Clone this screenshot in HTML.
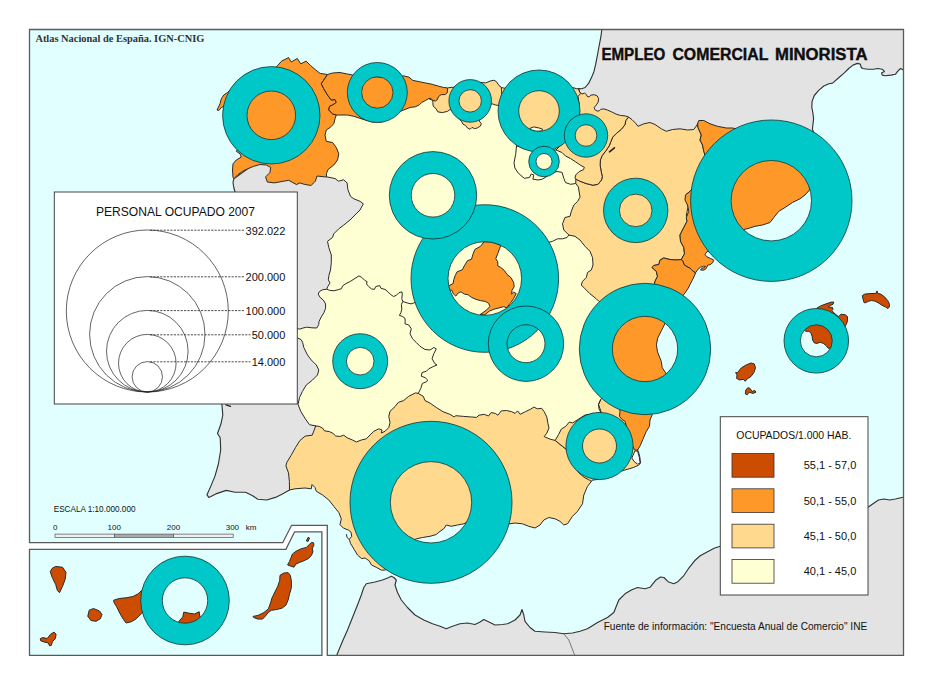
<!DOCTYPE html>
<html><head><meta charset="utf-8"><title>Empleo comercial minorista</title>
<style>
html,body{margin:0;padding:0;background:#fff;overflow:hidden;}
svg{display:block}
text{font-family:"Liberation Sans",sans-serif;fill:#111}
.ser{font-family:"Liberation Serif",serif;font-weight:bold;fill:#333}
.b{stroke:#2a2a2a;stroke-width:1;stroke-linejoin:round}
.b2{stroke:#333;stroke-width:1.15;stroke-linejoin:round}
.ring{fill:#00C8C8;stroke:#133;stroke-width:0.8;fill-rule:evenodd}
.c0{fill:#FFFFD4}.c1{fill:#FED98E}.c2{fill:#FE9929}.c3{fill:#CC4C02}.g{fill:#E3E3E3}
</style></head><body>
<svg width="933" height="685" viewBox="0 0 933 685">
<defs>
<clipPath id="cm"><path d="M29.5 29.5H903.5V655.3H327.3V525.3H291.6L282.7 542.7H29.5Z"/></clipPath>
<clipPath id="ci"><path d="M29.5 549.3H285.9L294.6 531.8H321.9V655.3H29.5Z"/></clipPath>
</defs>
<rect width="933" height="685" fill="#fff"/>
<!-- MAIN MAP -->
<g clip-path="url(#cm)">
<rect x="29" y="29" width="875" height="627" fill="#E1FFFF"/>
<path class="g b2" d="M233.8 178.8L233.0 182.5L233.8 187.5L235.0 192.0L232.0 210.0L228.0 240.0L224.0 280.0L218.0 320.0L214.0 350.0L216.0 380.0L221.9 404.5L222.8 415.0L221.0 423.8L217.5 433.5L220.2 437.8L220.7 450.0L218.4 464.0L214.9 476.4L210.5 486.9L207.0 494.8L208.8 497.4L215.8 493.9L226.3 490.4L235.0 492.2L245.6 492.2L252.6 495.7L257.8 499.2L266.6 500.0L275.4 497.4L282.4 493.9L289.5 490.0L300.0 470.0L330.0 430.0L345.0 300.0L372.0 205.0L345.0 170.0L260.0 160.0Z"/>
<path class="g b2" d="M602.0 28.0L601.8 29.7L600.9 36.7L599.1 46.0L597.4 55.4L595.6 64.7L593.9 71.7L591.5 77.6L588.6 83.4L585.1 87.5L581.6 88.7L578.5 88.5L590.0 130.0L700.0 160.0L810.0 160.0L815.0 136.0L812.4 129.1L812.9 124.7L813.6 118.9L812.9 113.0L811.8 107.2L812.1 101.4L814.3 95.5L818.7 90.4L823.8 86.0L828.9 83.8L832.6 83.1L838.4 78.0L844.3 72.9L848.7 68.5L853.0 65.1L857.4 63.4L860.3 64.1L861.1 67.0L862.5 68.5L867.6 69.2L873.5 69.2L877.9 68.5L882.2 69.2L884.4 71.4L881.5 72.9L882.2 75.1L885.2 75.8L891.0 75.1L895.4 74.3L897.6 71.4L900.5 68.5L903.4 69.9L906.0 69.9L906.0 28.0Z"/>
<path class="g b2" d="M336.0 657.0L342.5 641.3L347.5 630.0L352.5 617.5L357.5 605.0L361.3 595.0L363.8 587.5L366.3 583.8L375.0 582.0L382.5 580.0L388.8 577.5L391.3 576.3L393.8 577.5L396.3 580.0L395.0 585.0L397.5 592.5L401.3 600.0L407.5 607.5L415.0 615.0L423.8 620.0L432.5 623.8L440.0 626.3L446.3 628.8L452.5 626.3L460.0 623.8L467.5 623.0L475.0 624.5L480.0 622.0L483.8 619.5L487.5 621.3L495.0 625.0L502.5 624.5L507.5 623.8L515.0 620.0L520.0 615.0L522.0 609.5L523.8 615.0L525.0 621.3L530.0 627.5L535.0 631.3L545.0 632.0L555.0 632.5L563.8 633.8L572.5 633.0L580.0 631.3L587.5 628.8L597.5 622.5L607.5 617.5L613.8 612.5L616.3 606.3L618.8 600.0L625.0 593.8L631.3 590.0L637.5 587.5L645.0 588.8L650.0 587.3L655.6 580.3L660.6 577.0L663.9 577.5L668.1 581.7L673.7 583.7L677.9 581.7L683.4 576.2L689.0 567.8L694.6 560.8L700.2 555.8L707.1 551.9L714.1 548.3L720.2 546.3L740.0 540.0L780.0 530.0L830.0 518.0L868.0 507.3L873.0 503.7L878.5 500.0L884.1 499.0L889.7 500.0L895.3 499.0L903.0 497.3L906.0 497.0L906.0 657.0Z"/>
<path d="M563.8 633.8L568.8 640L575 656" fill="none" stroke="#333" stroke-width="0.6"/>
<path d="M226 404.8L230.5 406.3" stroke="#222" stroke-width="1.4" stroke-linecap="round"/>
<path d="M346.4 534.6L347.2 537.5L348.8 539.3" fill="none" stroke="#222" stroke-width="1" stroke-linecap="round"/>
<clipPath id="sp"><path d="M233.8 178.8L233.0 177.5L232.5 170.0L233.0 163.8L236.3 160.0L241.3 157.0L240.0 153.8L236.3 151.3L240.0 146.0L238.0 136.0L236.0 125.0L232.0 115.0L228.0 108.0L223.8 106.3L221.3 107.5L218.8 110.5L217.0 110.0L220.0 103.8L221.3 98.8L223.8 95.0L227.5 92.5L232.0 88.0L240.0 80.0L252.0 74.0L265.0 70.0L276.3 67.0L281.6 61.1L288.6 57.6L291.2 62.0L297.3 58.5L300.8 63.8L306.1 61.1L310.5 65.5L315.7 69.9L320.1 73.4L327.5 74.5L332.5 73.0L340.0 72.5L346.3 73.8L352.5 75.0L365.0 76.0L380.0 77.0L395.0 77.0L403.9 75.9L409.0 77.2L412.9 80.4L419.3 81.7L425.7 83.0L432.2 84.3L438.6 86.2L443.7 87.5L447.6 87.9L455.0 87.0L465.0 84.0L475.0 83.0L482.3 82.4L485.5 83.0L490.0 81.1L493.9 80.2L496.5 81.7L499.0 85.6L501.6 87.5L504.2 88.2L510.0 88.0L525.0 86.0L540.0 85.0L555.0 86.0L565.0 87.0L575.0 88.0L576.0 88.9L578.5 88.5L579.6 91.8L581.8 94.0L584.7 93.2L586.5 94.7L587.3 96.5L589.1 96.9L590.9 95.1L594.2 94.7L597.1 95.8L598.6 98.4L598.2 102.0L596.4 104.9L594.2 107.5L594.9 109.7L597.1 111.1L599.3 110.8L600.8 109.3L603.7 108.9L607.3 110.0L611.7 111.9L616.1 114.1L620.5 115.5L625.0 115.9L628.5 117.0L632.0 119.6L635.5 123.1L638.0 126.3L643.8 123.8L650.0 122.5L655.0 124.5L661.3 128.8L666.3 131.3L672.5 129.5L680.0 128.8L687.5 130.0L693.8 129.5L697.0 125.0L698.8 120.5L703.8 120.5L710.0 123.8L717.5 126.3L726.3 128.0L732.5 128.0L745.0 131.0L760.0 133.0L775.0 135.0L790.0 137.0L805.0 137.0L815.0 136.0L822.0 142.0L824.0 150.0L818.0 158.0L814.0 170.0L812.0 182.0L809.5 190.0L805.0 195.0L800.0 198.8L792.5 202.5L785.0 207.5L778.8 211.3L773.8 217.5L770.0 222.5L762.5 225.0L755.0 226.3L748.0 228.5L743.7 229.5L735.0 238.0L725.0 246.0L716.0 250.0L714.0 252.0L707.1 251.5L705.0 254.5L706.6 256.6L710.6 258.6L713.2 259.6L713.7 260.1L712.7 262.7L710.1 264.7L707.6 265.2L707.1 266.8L705.5 269.3L703.0 270.3L700.4 269.8L702.0 268.3L704.5 267.8L705.5 266.3L703.5 266.3L700.4 267.3L697.9 269.3L695.8 272.4L694.3 276.0L692.3 280.1L690.2 284.1L688.2 288.2L685.1 292.8L683.1 295.4L678.0 303.0L672.0 311.0L667.0 318.0L664.8 323.8L661.3 330.8L657.8 337.8L656.4 344.8L657.5 351.9L659.6 357.1L661.3 361.5L662.2 367.6L665.7 372.9L670.0 380.0L672.0 388.0L668.0 396.0L662.0 404.0L656.0 410.0L652.5 413.8L650.0 420.0L649.5 426.3L646.3 431.3L642.8 439.6L640.2 445.7L637.6 450.0L638.5 452.0L639.8 457.0L640.6 463.2L638.4 465.3L633.2 467.6L627.0 469.4L618.0 472.0L610.0 476.0L600.0 479.0L593.8 480.0L592.5 480.0L587.5 486.3L583.8 495.0L582.5 503.8L577.5 511.3L572.5 516.3L567.5 523.8L563.8 525.0L560.0 521.3L555.0 518.8L548.8 517.5L543.8 520.0L540.0 525.0L535.0 528.0L528.8 526.3L522.5 523.8L515.0 523.0L510.0 523.8L500.0 524.0L490.0 523.0L480.0 522.0L470.0 522.0L466.3 522.5L463.8 523.8L457.5 525.0L451.3 526.3L446.3 525.0L443.8 528.8L440.0 531.3L436.3 534.5L430.0 536.3L422.5 537.5L416.3 538.8L410.0 542.0L404.0 550.0L398.0 560.0L392.0 567.0L385.0 570.0L381.5 570.2L376.2 567.3L371.5 565.0L369.2 560.9L365.1 558.0L361.6 558.6L357.5 555.0L354.0 549.2L350.5 543.4L349.3 539.3L351.7 536.4L351.1 532.3L348.2 529.9L343.5 528.2L340.0 524.7L341.3 518.8L338.8 512.5L333.8 506.3L328.8 500.0L322.5 495.0L316.3 491.3L315.0 487.5L312.0 484.5L311.3 488.8L305.0 488.0L295.0 488.8L289.5 490.0L289.4 481.6L288.5 472.9L285.9 465.9L286.8 462.4L291.1 455.4L295.5 447.5L299.9 440.5L305.2 436.1L312.2 435.2L313.9 430.8L315.7 425.9L309.5 424.7L305.2 418.6L300.8 411.5L298.1 404.5L299.5 397.5L302.5 391.3L306.3 385.0L312.5 380.0L317.5 375.0L318.8 370.0L316.3 365.0L311.3 360.0L307.5 355.0L303.8 347.5L302.6 342.3L300.9 339.5L297.4 337.9L296.0 334.0L297.4 328.6L299.9 329.1L303.1 328.0L306.4 327.2L311.9 327.8L316.8 328.0L318.7 324.7L319.0 321.5L321.2 317.1L323.9 312.7L325.6 308.3L325.6 303.9L323.4 300.1L320.1 297.4L318.2 294.1L319.6 291.4L322.8 289.7L326.7 289.2L327.8 286.4L330.0 283.1L328.3 279.9L328.9 275.5L330.5 270.0L331.3 262.5L331.3 255.0L328.8 247.5L327.5 241.3L332.5 237.5L333.8 233.8L338.8 228.8L343.8 225.0L350.0 220.0L355.0 215.0L360.0 210.0L363.3 203.8L360.0 201.3L353.8 198.8L350.5 196.3L347.9 189.7L347.1 182.9L343.6 179.8L338.5 181.2L335.1 178.6L330.0 177.5L326.5 176.9L324.8 176.9L317.1 176.0L315.3 181.2L311.1 185.5L304.2 184.3L299.9 182.9L296.5 184.6L288.8 180.3L283.6 181.2L274.2 182.9L267.3 182.0L265.6 176.9L269.9 172.6L270.7 167.4L266.3 165.0L260.0 164.5L253.8 166.3L247.5 168.8L242.5 171.3L237.5 175.0Z"/></clipPath>
<path class="c0" d="M233.8 178.8L233.0 177.5L232.5 170.0L233.0 163.8L236.3 160.0L241.3 157.0L240.0 153.8L236.3 151.3L240.0 146.0L238.0 136.0L236.0 125.0L232.0 115.0L228.0 108.0L223.8 106.3L221.3 107.5L218.8 110.5L217.0 110.0L220.0 103.8L221.3 98.8L223.8 95.0L227.5 92.5L232.0 88.0L240.0 80.0L252.0 74.0L265.0 70.0L276.3 67.0L281.6 61.1L288.6 57.6L291.2 62.0L297.3 58.5L300.8 63.8L306.1 61.1L310.5 65.5L315.7 69.9L320.1 73.4L327.5 74.5L332.5 73.0L340.0 72.5L346.3 73.8L352.5 75.0L365.0 76.0L380.0 77.0L395.0 77.0L403.9 75.9L409.0 77.2L412.9 80.4L419.3 81.7L425.7 83.0L432.2 84.3L438.6 86.2L443.7 87.5L447.6 87.9L455.0 87.0L465.0 84.0L475.0 83.0L482.3 82.4L485.5 83.0L490.0 81.1L493.9 80.2L496.5 81.7L499.0 85.6L501.6 87.5L504.2 88.2L510.0 88.0L525.0 86.0L540.0 85.0L555.0 86.0L565.0 87.0L575.0 88.0L576.0 88.9L578.5 88.5L579.6 91.8L581.8 94.0L584.7 93.2L586.5 94.7L587.3 96.5L589.1 96.9L590.9 95.1L594.2 94.7L597.1 95.8L598.6 98.4L598.2 102.0L596.4 104.9L594.2 107.5L594.9 109.7L597.1 111.1L599.3 110.8L600.8 109.3L603.7 108.9L607.3 110.0L611.7 111.9L616.1 114.1L620.5 115.5L625.0 115.9L628.5 117.0L632.0 119.6L635.5 123.1L638.0 126.3L643.8 123.8L650.0 122.5L655.0 124.5L661.3 128.8L666.3 131.3L672.5 129.5L680.0 128.8L687.5 130.0L693.8 129.5L697.0 125.0L698.8 120.5L703.8 120.5L710.0 123.8L717.5 126.3L726.3 128.0L732.5 128.0L745.0 131.0L760.0 133.0L775.0 135.0L790.0 137.0L805.0 137.0L815.0 136.0L822.0 142.0L824.0 150.0L818.0 158.0L814.0 170.0L812.0 182.0L809.5 190.0L805.0 195.0L800.0 198.8L792.5 202.5L785.0 207.5L778.8 211.3L773.8 217.5L770.0 222.5L762.5 225.0L755.0 226.3L748.0 228.5L743.7 229.5L735.0 238.0L725.0 246.0L716.0 250.0L714.0 252.0L707.1 251.5L705.0 254.5L706.6 256.6L710.6 258.6L713.2 259.6L713.7 260.1L712.7 262.7L710.1 264.7L707.6 265.2L707.1 266.8L705.5 269.3L703.0 270.3L700.4 269.8L702.0 268.3L704.5 267.8L705.5 266.3L703.5 266.3L700.4 267.3L697.9 269.3L695.8 272.4L694.3 276.0L692.3 280.1L690.2 284.1L688.2 288.2L685.1 292.8L683.1 295.4L678.0 303.0L672.0 311.0L667.0 318.0L664.8 323.8L661.3 330.8L657.8 337.8L656.4 344.8L657.5 351.9L659.6 357.1L661.3 361.5L662.2 367.6L665.7 372.9L670.0 380.0L672.0 388.0L668.0 396.0L662.0 404.0L656.0 410.0L652.5 413.8L650.0 420.0L649.5 426.3L646.3 431.3L642.8 439.6L640.2 445.7L637.6 450.0L638.5 452.0L639.8 457.0L640.6 463.2L638.4 465.3L633.2 467.6L627.0 469.4L618.0 472.0L610.0 476.0L600.0 479.0L593.8 480.0L592.5 480.0L587.5 486.3L583.8 495.0L582.5 503.8L577.5 511.3L572.5 516.3L567.5 523.8L563.8 525.0L560.0 521.3L555.0 518.8L548.8 517.5L543.8 520.0L540.0 525.0L535.0 528.0L528.8 526.3L522.5 523.8L515.0 523.0L510.0 523.8L500.0 524.0L490.0 523.0L480.0 522.0L470.0 522.0L466.3 522.5L463.8 523.8L457.5 525.0L451.3 526.3L446.3 525.0L443.8 528.8L440.0 531.3L436.3 534.5L430.0 536.3L422.5 537.5L416.3 538.8L410.0 542.0L404.0 550.0L398.0 560.0L392.0 567.0L385.0 570.0L381.5 570.2L376.2 567.3L371.5 565.0L369.2 560.9L365.1 558.0L361.6 558.6L357.5 555.0L354.0 549.2L350.5 543.4L349.3 539.3L351.7 536.4L351.1 532.3L348.2 529.9L343.5 528.2L340.0 524.7L341.3 518.8L338.8 512.5L333.8 506.3L328.8 500.0L322.5 495.0L316.3 491.3L315.0 487.5L312.0 484.5L311.3 488.8L305.0 488.0L295.0 488.8L289.5 490.0L289.4 481.6L288.5 472.9L285.9 465.9L286.8 462.4L291.1 455.4L295.5 447.5L299.9 440.5L305.2 436.1L312.2 435.2L313.9 430.8L315.7 425.9L309.5 424.7L305.2 418.6L300.8 411.5L298.1 404.5L299.5 397.5L302.5 391.3L306.3 385.0L312.5 380.0L317.5 375.0L318.8 370.0L316.3 365.0L311.3 360.0L307.5 355.0L303.8 347.5L302.6 342.3L300.9 339.5L297.4 337.9L296.0 334.0L297.4 328.6L299.9 329.1L303.1 328.0L306.4 327.2L311.9 327.8L316.8 328.0L318.7 324.7L319.0 321.5L321.2 317.1L323.9 312.7L325.6 308.3L325.6 303.9L323.4 300.1L320.1 297.4L318.2 294.1L319.6 291.4L322.8 289.7L326.7 289.2L327.8 286.4L330.0 283.1L328.3 279.9L328.9 275.5L330.5 270.0L331.3 262.5L331.3 255.0L328.8 247.5L327.5 241.3L332.5 237.5L333.8 233.8L338.8 228.8L343.8 225.0L350.0 220.0L355.0 215.0L360.0 210.0L363.3 203.8L360.0 201.3L353.8 198.8L350.5 196.3L347.9 189.7L347.1 182.9L343.6 179.8L338.5 181.2L335.1 178.6L330.0 177.5L326.5 176.9L324.8 176.9L317.1 176.0L315.3 181.2L311.1 185.5L304.2 184.3L299.9 182.9L296.5 184.6L288.8 180.3L283.6 181.2L274.2 182.9L267.3 182.0L265.6 176.9L269.9 172.6L270.7 167.4L266.3 165.0L260.0 164.5L253.8 166.3L247.5 168.8L242.5 171.3L237.5 175.0Z"/>
<g clip-path="url(#sp)">
<path class="c1 b" d="M315.7 425.9L319.2 426.4L322.7 428.2L324.4 430.8L329.7 431.7L333.2 433.5L335.8 436.1L340.2 436.4L343.7 435.2L347.2 437.8L352.5 440.0L356.3 442.0L361.3 440.0L366.3 438.8L370.0 435.0L373.8 431.3L378.8 428.8L382.0 430.0L381.3 433.0L385.0 431.3L388.8 427.5L390.0 422.5L388.8 416.3L390.0 411.3L395.0 406.6L398.4 402.3L403.6 400.6L408.7 396.3L415.6 392.9L418.2 393.4L423.3 396.3L425.0 400.6L430.2 403.2L436.2 407.4L443.0 411.7L449.9 414.3L454.2 416.9L455.9 415.7L463.6 416.4L470.5 416.9L476.5 417.4L479.0 415.2L484.2 414.3L488.5 416.0L491.1 412.6L495.3 413.4L497.9 415.2L501.3 410.9L506.5 410.5L511.6 411.7L515.1 413.4L517.6 410.9L520.2 414.3L525.4 411.7L530.5 409.2L533.9 407.1L537.4 408.8L541.7 408.3L544.2 411.7L546.8 416.9L548.0 423.7L549.0 428.0L546.8 433.2L544.2 436.6L550.2 439.2L555.2 440.4L559.6 444.0L564.0 447.5L566.2 449.2L575.0 456.0L610.0 470.0L610.0 600.0L270.0 600.0L270.0 430.0Z"/>
<path class="c1 b" d="M555.2 440.4L558.7 434.3L561.3 429.1L565.7 426.4L569.2 422.1L572.7 422.9L585.0 415.0L601.3 412.5L598.5 404.5L600.8 399.3L610.0 390.0L640.0 400.0L660.0 440.0L660.0 480.0L592.0 481.6L589.4 480.2L584.1 477.3L578.9 472.9L572.0 462.0L566.2 449.2L564.0 447.5L559.6 444.0Z"/>
<path class="c1 b" d="M628.5 117.0L625.8 120.5L624.9 124.8L621.4 129.2L616.2 133.6L612.7 137.1L610.9 141.5L609.2 145.9L605.7 151.1L602.2 155.5L600.4 159.9L600.1 165.2L601.3 172.2L602.3 176.6L601.5 180.0L598.0 184.3L592.9 185.2L586.0 183.5L579.2 180.9L575.8 179.0L575.8 183.5L578.3 186.9L579.2 192.0L580.0 197.2L577.5 201.5L573.8 205.0L571.3 211.3L570.0 216.3L565.0 217.5L562.5 223.8L563.8 230.0L568.8 235.0L575.0 236.3L580.0 240.0L585.0 246.3L590.0 251.3L592.5 257.5L593.0 265.0L591.3 270.0L587.5 272.5L586.3 277.5L582.5 281.3L581.3 285.0L585.0 288.8L590.0 293.8L596.3 298.8L598.8 301.3L610.0 310.0L640.0 300.0L654.5 283.8L655.0 281.3L657.5 276.3L656.3 271.3L652.0 267.5L653.8 265.5L658.8 264.5L660.0 260.0L663.8 258.0L670.0 259.5L676.3 260.0L681.3 259.5L684.5 253.8L683.8 247.5L680.5 241.3L680.0 235.0L683.8 227.5L687.0 221.3L686.3 215.0L688.0 207.5L687.5 200.0L685.5 195.0L690.0 191.3L700.0 180.0L705.0 155.0L703.8 151.3L702.5 145.0L700.0 140.0L701.3 135.0L698.0 127.5L697.5 122.0L697.0 110.0L628.0 105.0Z"/>
<path class="c1 b" d="M420.0 70.0L420.0 95.0L432.8 100.4L432.8 102.3L433.2 106.2L436.0 108.7L437.9 111.9L442.4 112.6L447.6 111.3L450.2 109.4L455.0 114.0L461.7 121.6L463.0 124.2L465.6 125.5L467.5 128.0L470.1 129.3L472.0 127.4L474.6 128.7L477.2 128.0L480.4 126.1L481.3 123.5L479.1 120.9L484.0 114.0L491.6 103.6L495.2 104.9L498.4 105.5L503.0 106.0L512.0 100.0L512.0 70.0Z"/>
<path class="c1 b" d="M575.0 80.0L640.0 80.0L628.5 117.0L625.8 120.5L624.9 124.8L621.4 129.2L616.2 133.6L612.7 137.1L610.9 141.5L609.2 145.9L605.7 151.1L602.2 155.5L600.4 159.9L600.1 165.2L601.3 172.2L602.3 176.6L601.5 180.0L598.0 184.3L592.9 185.2L586.0 183.5L579.2 180.9L575.8 179.0L574.9 178.3L575.8 174.9L579.2 171.5L583.5 169.7L584.3 167.2L580.9 165.5L575.8 162.0L570.6 158.6L565.5 156.0L562.0 152.5L556.0 150.0L550.0 140.0L550.0 100.0Z"/>
<path class="c1 b" d="M501.3 70.0L501.3 87.0L502.0 98.0L503.0 106.0L506.0 114.0L509.0 123.0L512.0 133.0L517.0 146.0L530.0 150.0L545.0 152.0L556.0 150.0L560.0 146.0L566.0 141.0L571.0 132.0L575.0 122.0L578.0 112.0L579.0 104.0L578.1 96.2L580.7 93.6L579.6 91.8L578.5 88.5L582.0 70.0Z"/>
<path class="c0 b" d="M530.0 128.3L533.8 126.9L539.1 128.0L542.6 129.2L541.7 131.0L536.4 131.5L531.2 130.1Z"/>
<path class="c2 b" d="M327.5 50.0L327.5 74.5L323.8 80.0L321.3 83.8L323.8 88.8L327.5 95.0L331.3 100.0L335.0 99.5L336.3 102.5L332.5 105.0L329.5 106.3L328.8 110.0L332.5 113.8L336.3 115.0L335.0 118.8L333.8 123.8L330.0 127.5L326.3 130.0L325.0 135.0L326.3 141.3L332.5 142.5L336.3 147.5L338.8 153.8L337.5 160.0L333.8 165.0L328.0 169.5L326.5 173.4L326.5 176.9L320.0 200.0L200.0 200.0L200.0 50.0Z"/>
<path class="c2 b" d="M327.5 55.0L327.5 74.5L323.8 80.0L321.3 83.8L323.8 88.8L327.5 95.0L331.3 100.0L335.0 99.5L336.3 102.5L332.5 105.0L329.5 106.3L328.8 110.0L332.5 113.8L336.3 115.0L340.0 115.0L347.5 115.0L353.8 116.3L362.0 119.0L372.0 122.0L382.0 122.0L392.0 117.0L401.9 110.7L405.1 109.4L410.3 107.4L415.4 106.8L419.3 104.9L421.9 102.3L425.7 100.4L428.9 98.4L430.9 98.4L432.8 100.4L435.4 101.0L437.3 99.7L438.6 96.5L441.2 94.6L445.0 94.6L447.3 92.7L447.6 87.9L448.0 55.0Z"/>
<path class="c2 b" d="M697.0 110.0L697.5 122.0L698.0 127.5L701.3 135.0L700.0 140.0L702.5 145.0L703.8 151.3L705.0 155.0L700.0 180.0L690.0 191.3L685.5 195.0L685.0 200.0L687.5 205.0L688.8 211.3L686.3 217.5L687.0 221.3L683.8 227.5L680.0 235.0L680.5 241.3L683.8 247.5L684.5 253.8L681.3 259.5L683.1 261.7L684.1 264.7L687.2 266.8L690.2 268.3L692.8 270.9L695.3 272.9L696.0 290.0L740.0 290.0L840.0 220.0L840.0 110.0Z"/>
<path class="c2 b" d="M681.3 259.5L676.3 260.0L670.0 259.5L663.8 258.0L660.0 260.0L658.8 264.5L653.8 265.5L652.0 267.5L656.3 271.3L657.5 276.3L655.0 281.3L654.5 283.8L640.0 300.0L620.0 320.0L610.0 350.0L610.0 380.0L618.0 400.0L620.0 411.3L619.5 416.3L622.0 419.5L625.0 421.3L630.0 440.0L634.5 450.0L637.0 450.0L660.0 450.0L700.0 380.0L700.0 300.0L695.3 272.9L692.8 270.9L690.2 268.3L687.2 266.8L684.1 264.7L683.1 261.7Z"/>
<path class="c2 b" d="M484.0 241.8L480.7 246.2L474.8 249.5L472.8 254.7L471.5 259.3L467.6 260.6L464.3 265.9L462.3 269.8L457.1 271.8L455.1 275.7L453.8 279.7L453.1 283.6L449.2 285.6L448.1 286.9L449.9 290.2L451.8 290.2L453.1 293.5L455.8 296.1L458.4 292.8L461.0 291.8L464.3 294.1L468.2 294.8L471.5 297.4L476.1 299.4L480.7 300.7L485.3 301.4L488.6 303.3L489.9 306.6L486.0 310.5L480.1 314.5L484.7 314.9L489.3 311.2L493.9 309.2L499.1 307.9L503.7 306.6L506.4 307.9L510.3 303.3L513.6 298.7L516.2 293.5L513.6 292.2L511.6 294.1L512.0 290.2L514.2 286.9L513.6 282.3L511.0 277.7L507.0 274.4L504.4 270.5L500.4 267.2L497.8 265.9L497.8 261.9L495.8 258.7L497.8 253.4L499.8 248.1L500.7 245.5L495.2 243.1L489.9 241.8Z"/>
<path d="M516.6 145.0L515.7 154.3L514.0 162.9L514.9 168.0L518.3 173.2L524.3 178.3L529.5 177.5L531.2 174.0L533.7 174.9L532.9 179.2L538.0 180.0L542.3 179.2L546.0 177.0L550.0 174.0L556.9 171.5L562.0 172.3L563.8 178.3L565.5 182.6L570.6 184.3L575.8 183.5" fill="none" class="b"/>
<path d="M326.7 289.2L329.4 290.3L333.8 290.8L338.2 289.7L341.5 288.6L342.6 285.9L345.8 283.7L350.7 281.2L355.1 278.3L358.9 275.9L361.8 277.4L364.7 280.3L367.1 281.7L366.6 284.1L368.6 286.5L371.5 288.9L374.4 289.4L375.8 286.5L379.7 285.6L381.1 288.4L385.0 289.4L387.9 291.8L390.8 294.7L393.6 296.5L396.5 295.2L398.9 292.8L401.8 291.8L402.3 294.2L401.8 298.6L402.8 301.5" fill="none" class="b"/>
<path d="M402.8 301.5L407.1 302.9L411.0 303.9L413.9 302.9L425.0 300.0L440.0 296.0" fill="none" class="b"/>
<path d="M520.0 250.0L535.0 246.0L550.0 242.0L552.5 241.3L557.5 238.8L562.5 238.8L567.0 237.5L568.8 235.0" fill="none" class="b"/>
<path d="M402.8 301.5L401.4 304.4L401.8 309.2L400.9 312.6L399.4 315.4L402.3 316.4L404.7 317.9L405.2 320.0L405.0 323.8L408.8 325.0L411.3 328.8L410.0 333.8L412.5 338.8L416.3 342.5L420.0 346.3L425.0 349.5L430.0 350.0L433.8 347.5L436.3 348.8L433.8 353.8L432.0 358.8L435.0 363.8L437.0 365.0L433.8 366.3L428.8 368.8L426.3 371.3L422.0 372.5L421.3 376.3L425.0 377.5L427.6 380.0L426.7 381.7L422.4 383.4L420.7 388.6L418.2 393.4" fill="none" class="b"/>
<path d="M600.8 412.4L599.0 408.9L598.5 404.5L600.8 399.3" fill="none" class="b"/>
<path class="b" d="M634.9 451.0L637.6 451.0L639.3 457.1L640.2 463.2L637.6 464.1L634.1 461.5L631.8 458.0Z" fill="#F4FFFF"/>
<path d="M609.5 151.8L614.4 147.8" stroke="#222" stroke-width="1.6" stroke-linecap="round"/>
</g>
<path d="M233.8 178.8L233.0 177.5L232.5 170.0L233.0 163.8L236.3 160.0L241.3 157.0L240.0 153.8L236.3 151.3L240.0 146.0L238.0 136.0L236.0 125.0L232.0 115.0L228.0 108.0L223.8 106.3L221.3 107.5L218.8 110.5L217.0 110.0L220.0 103.8L221.3 98.8L223.8 95.0L227.5 92.5L232.0 88.0L240.0 80.0L252.0 74.0L265.0 70.0L276.3 67.0L281.6 61.1L288.6 57.6L291.2 62.0L297.3 58.5L300.8 63.8L306.1 61.1L310.5 65.5L315.7 69.9L320.1 73.4L327.5 74.5L332.5 73.0L340.0 72.5L346.3 73.8L352.5 75.0L365.0 76.0L380.0 77.0L395.0 77.0L403.9 75.9L409.0 77.2L412.9 80.4L419.3 81.7L425.7 83.0L432.2 84.3L438.6 86.2L443.7 87.5L447.6 87.9L455.0 87.0L465.0 84.0L475.0 83.0L482.3 82.4L485.5 83.0L490.0 81.1L493.9 80.2L496.5 81.7L499.0 85.6L501.6 87.5L504.2 88.2L510.0 88.0L525.0 86.0L540.0 85.0L555.0 86.0L565.0 87.0L575.0 88.0L576.0 88.9L578.5 88.5L579.6 91.8L581.8 94.0L584.7 93.2L586.5 94.7L587.3 96.5L589.1 96.9L590.9 95.1L594.2 94.7L597.1 95.8L598.6 98.4L598.2 102.0L596.4 104.9L594.2 107.5L594.9 109.7L597.1 111.1L599.3 110.8L600.8 109.3L603.7 108.9L607.3 110.0L611.7 111.9L616.1 114.1L620.5 115.5L625.0 115.9L628.5 117.0L632.0 119.6L635.5 123.1L638.0 126.3L643.8 123.8L650.0 122.5L655.0 124.5L661.3 128.8L666.3 131.3L672.5 129.5L680.0 128.8L687.5 130.0L693.8 129.5L697.0 125.0L698.8 120.5L703.8 120.5L710.0 123.8L717.5 126.3L726.3 128.0L732.5 128.0L745.0 131.0L760.0 133.0L775.0 135.0L790.0 137.0L805.0 137.0L815.0 136.0L822.0 142.0L824.0 150.0L818.0 158.0L814.0 170.0L812.0 182.0L809.5 190.0L805.0 195.0L800.0 198.8L792.5 202.5L785.0 207.5L778.8 211.3L773.8 217.5L770.0 222.5L762.5 225.0L755.0 226.3L748.0 228.5L743.7 229.5L735.0 238.0L725.0 246.0L716.0 250.0L714.0 252.0L707.1 251.5L705.0 254.5L706.6 256.6L710.6 258.6L713.2 259.6L713.7 260.1L712.7 262.7L710.1 264.7L707.6 265.2L707.1 266.8L705.5 269.3L703.0 270.3L700.4 269.8L702.0 268.3L704.5 267.8L705.5 266.3L703.5 266.3L700.4 267.3L697.9 269.3L695.8 272.4L694.3 276.0L692.3 280.1L690.2 284.1L688.2 288.2L685.1 292.8L683.1 295.4L678.0 303.0L672.0 311.0L667.0 318.0L664.8 323.8L661.3 330.8L657.8 337.8L656.4 344.8L657.5 351.9L659.6 357.1L661.3 361.5L662.2 367.6L665.7 372.9L670.0 380.0L672.0 388.0L668.0 396.0L662.0 404.0L656.0 410.0L652.5 413.8L650.0 420.0L649.5 426.3L646.3 431.3L642.8 439.6L640.2 445.7L637.6 450.0L638.5 452.0L639.8 457.0L640.6 463.2L638.4 465.3L633.2 467.6L627.0 469.4L618.0 472.0L610.0 476.0L600.0 479.0L593.8 480.0L592.5 480.0L587.5 486.3L583.8 495.0L582.5 503.8L577.5 511.3L572.5 516.3L567.5 523.8L563.8 525.0L560.0 521.3L555.0 518.8L548.8 517.5L543.8 520.0L540.0 525.0L535.0 528.0L528.8 526.3L522.5 523.8L515.0 523.0L510.0 523.8L500.0 524.0L490.0 523.0L480.0 522.0L470.0 522.0L466.3 522.5L463.8 523.8L457.5 525.0L451.3 526.3L446.3 525.0L443.8 528.8L440.0 531.3L436.3 534.5L430.0 536.3L422.5 537.5L416.3 538.8L410.0 542.0L404.0 550.0L398.0 560.0L392.0 567.0L385.0 570.0L381.5 570.2L376.2 567.3L371.5 565.0L369.2 560.9L365.1 558.0L361.6 558.6L357.5 555.0L354.0 549.2L350.5 543.4L349.3 539.3L351.7 536.4L351.1 532.3L348.2 529.9L343.5 528.2L340.0 524.7L341.3 518.8L338.8 512.5L333.8 506.3L328.8 500.0L322.5 495.0L316.3 491.3L315.0 487.5L312.0 484.5L311.3 488.8L305.0 488.0L295.0 488.8L289.5 490.0L289.4 481.6L288.5 472.9L285.9 465.9L286.8 462.4L291.1 455.4L295.5 447.5L299.9 440.5L305.2 436.1L312.2 435.2L313.9 430.8L315.7 425.9L309.5 424.7L305.2 418.6L300.8 411.5L298.1 404.5L299.5 397.5L302.5 391.3L306.3 385.0L312.5 380.0L317.5 375.0L318.8 370.0L316.3 365.0L311.3 360.0L307.5 355.0L303.8 347.5L302.6 342.3L300.9 339.5L297.4 337.9L296.0 334.0L297.4 328.6L299.9 329.1L303.1 328.0L306.4 327.2L311.9 327.8L316.8 328.0L318.7 324.7L319.0 321.5L321.2 317.1L323.9 312.7L325.6 308.3L325.6 303.9L323.4 300.1L320.1 297.4L318.2 294.1L319.6 291.4L322.8 289.7L326.7 289.2L327.8 286.4L330.0 283.1L328.3 279.9L328.9 275.5L330.5 270.0L331.3 262.5L331.3 255.0L328.8 247.5L327.5 241.3L332.5 237.5L333.8 233.8L338.8 228.8L343.8 225.0L350.0 220.0L355.0 215.0L360.0 210.0L363.3 203.8L360.0 201.3L353.8 198.8L350.5 196.3L347.9 189.7L347.1 182.9L343.6 179.8L338.5 181.2L335.1 178.6L330.0 177.5L326.5 176.9L324.8 176.9L317.1 176.0L315.3 181.2L311.1 185.5L304.2 184.3L299.9 182.9L296.5 184.6L288.8 180.3L283.6 181.2L274.2 182.9L267.3 182.0L265.6 176.9L269.9 172.6L270.7 167.4L266.3 165.0L260.0 164.5L253.8 166.3L247.5 168.8L242.5 171.3L237.5 175.0Z" fill="none" class="b"/>
<path class="c3 b" d="M817.0 308.0L820.7 305.9L826.1 303.8L831.4 302.1L833.8 302.1L833.0 304.3L829.3 305.9L828.4 307.0L832.5 307.5L833.0 309.1L832.0 310.7L834.0 313.0L838.4 316.6L841.1 314.2L845.4 314.8L847.5 316.6L847.5 320.9L846.2 324.7L845.4 325.7L843.0 332.0L838.0 342.0L832.0 349.0L830.4 348.2L828.2 348.2L826.1 345.6L823.4 343.4L820.2 342.3L817.0 343.4L814.3 342.9L812.7 340.2L812.1 336.4L811.1 333.2L808.9 331.3L805.7 331.3L803.0 329.0L806.0 322.0L811.0 315.0Z"/>
<path class="c3 b" d="M862.3 295.7L864.7 294.1L870.0 293.6L875.9 293.4L877.0 290.9L877.7 293.4L880.7 294.1L884.5 296.8L887.7 300.5L889.5 304.3L889.3 307.0L888.0 308.6L885.6 307.0L881.8 305.2L878.1 302.7L874.8 301.1L871.6 300.5L868.4 301.3L865.7 302.7L864.1 302.7L863.1 299.5Z"/>
<path class="c3 b" d="M737.5 372.6L741.4 367.8L746.2 364.9L751.0 363.0L754.3 363.9L755.5 367.8L753.9 372.6L751.0 376.5L747.2 378.8L745.3 381.3L743.3 379.4L739.5 379.9L736.6 378.4L737.0 374.9L735.6 372.6Z"/>
<path class="c3 b" d="M745.3 393.8L745.8 390.0L747.8 387.7L750.1 388.4L752.0 391.5L754.9 390.4L755.9 392.3L753.0 393.4L749.1 392.3L747.2 394.8Z"/>
</g>
<!-- CANARY INSET -->
<g clip-path="url(#ci)">
<rect x="29" y="530" width="294" height="126" fill="#E1FFFF"/>
<path class="c3 b" d="M55.7 566.4L62.6 567.3L66.0 572.4L65.2 579.3L62.6 586.2L59.5 592.7L57.4 590.5L55.7 584.5L52.3 577.6L50.2 571.6L52.3 568.2Z"/>
<path class="c3 b" d="M89.2 610.2L93.5 608.5L99.5 611.0L102.0 614.5L100.3 618.8L96.0 621.3L90.9 620.5L87.8 616.2Z"/>
<path class="c3 b" d="M40.3 638.5L42.9 637.6L47.2 638.5L50.6 634.2L54.0 632.1L56.1 634.2L55.4 638.5L52.3 641.9L51.4 645.3L49.7 645.9L48.0 642.8L43.7 641.9L40.6 640.7Z"/>
<path class="c3 b" d="M113.7 600.2L119.2 598.5L126.1 597.8L132.9 596.5L138.1 593.9L141.5 590.5L148.0 590.0L148.0 608.0L141.5 613.6L136.3 618.8L131.2 621.8L126.1 623.0L123.5 619.6L120.0 613.6L116.6 606.7L114.0 602.5Z"/>
<path class="c3 b" d="M178.9 621.4L182.8 616.9L183.8 612.1L188.6 613.1L194.4 614.0L199.2 611.7L199.8 616.0L203.0 622.0L202.0 632.0L195.0 638.0L185.0 638.0L178.0 632.0Z"/>
<path class="c3 b" d="M280.0 575.3L283.7 573.1L288.1 572.6L290.3 575.3L291.4 581.1L291.4 587.7L289.5 594.2L288.1 600.1L285.9 605.2L282.2 608.1L276.4 609.6L271.3 610.3L268.4 612.5L265.4 616.1L262.5 619.1L258.1 619.1L253.8 617.6L253.0 616.4L258.1 615.4L264.0 612.5L268.4 608.8L270.5 603.0L272.0 597.9L274.9 592.0L277.8 586.2L279.7 580.4Z"/>
<path class="c3 b" d="M287.6 565.0L289.5 561.4L291.0 557.7L292.4 554.1L296.1 551.2L301.2 548.7L306.3 547.5L309.2 544.6L311.4 542.4L313.6 542.8L313.9 545.3L312.4 548.2L312.9 551.9L311.4 555.5L308.5 558.5L304.1 560.7L299.7 562.4L296.1 563.9L293.9 567.2L291.0 566.2Z"/>
<path class="c3 b" d="M306.3 540.9L308.1 537.3L309.5 538.0L308.1 541.4Z"/>
</g>
<path class="ring" d="M350.0 502.3a81 81 0 1 0 162.0 0a81 81 0 1 0 -162.0 0ZM390.3 502.3a40.7 40.7 0 1 0 81.4 0a40.7 40.7 0 1 0 -81.4 0Z"/>
<path class="ring" d="M690.6 200.7a80.7 80.7 0 1 0 161.4 0a80.7 80.7 0 1 0 -161.4 0ZM731.1 200.7a40.2 40.2 0 1 0 80.4 0a40.2 40.2 0 1 0 -80.4 0Z"/>
<path class="ring" d="M411.0 278.5a73.8 73.8 0 1 0 147.6 0a73.8 73.8 0 1 0 -147.6 0ZM448.0 278.5a36.8 36.8 0 1 0 73.6 0a36.8 36.8 0 1 0 -73.6 0Z"/>
<path class="ring" d="M579.3 349a65.7 65.7 0 1 0 131.4 0a65.7 65.7 0 1 0 -131.4 0ZM612.3 349a32.7 32.7 0 1 0 65.4 0a32.7 32.7 0 1 0 -65.4 0Z"/>
<path class="ring" d="M222.6 115.3a48.7 48.7 0 1 0 97.4 0a48.7 48.7 0 1 0 -97.4 0ZM247.0 115.3a24.3 24.3 0 1 0 48.6 0a24.3 24.3 0 1 0 -48.6 0Z"/>
<path class="ring" d="M389.3 195.3a43.7 43.7 0 1 0 87.4 0a43.7 43.7 0 1 0 -87.4 0ZM411.2 195.3a21.8 21.8 0 1 0 43.6 0a21.8 21.8 0 1 0 -43.6 0Z"/>
<path class="ring" d="M498.0 111a41 41 0 1 0 82.0 0a41 41 0 1 0 -82.0 0ZM518.7 111a20.3 20.3 0 1 0 40.6 0a20.3 20.3 0 1 0 -40.6 0Z"/>
<path class="ring" d="M488.3 343.7a37.7 37.7 0 1 0 75.4 0a37.7 37.7 0 1 0 -75.4 0ZM507.0 343.7a19 19 0 1 0 38.0 0a19 19 0 1 0 -38.0 0Z"/>
<path class="ring" d="M565.9 446a33.6 33.6 0 1 0 67.2 0a33.6 33.6 0 1 0 -67.2 0ZM582.5 446a17 17 0 1 0 34.0 0a17 17 0 1 0 -34.0 0Z"/>
<path class="ring" d="M603.5 210.4a32.2 32.2 0 1 0 64.4 0a32.2 32.2 0 1 0 -64.4 0ZM619.4 210.4a16.3 16.3 0 1 0 32.6 0a16.3 16.3 0 1 0 -32.6 0Z"/>
<path class="ring" d="M784.0 340.8a32.3 32.3 0 1 0 64.6 0a32.3 32.3 0 1 0 -64.6 0ZM800.3 340.8a16 16 0 1 0 32.0 0a16 16 0 1 0 -32.0 0Z"/>
<path class="ring" d="M347.3 92.5a30 30 0 1 0 60.0 0a30 30 0 1 0 -60.0 0ZM361.6 92.5a15.7 15.7 0 1 0 31.4 0a15.7 15.7 0 1 0 -31.4 0Z"/>
<path class="ring" d="M332.7 361.2a27.5 27.5 0 1 0 55.0 0a27.5 27.5 0 1 0 -55.0 0ZM346.4 361.2a13.8 13.8 0 1 0 27.6 0a13.8 13.8 0 1 0 -27.6 0Z"/>
<path class="ring" d="M564.3 135.5a21.7 21.7 0 1 0 43.4 0a21.7 21.7 0 1 0 -43.4 0ZM575.2 135.5a10.8 10.8 0 1 0 21.6 0a10.8 10.8 0 1 0 -21.6 0Z"/>
<path class="ring" d="M448.9 100.9a21.3 21.3 0 1 0 42.6 0a21.3 21.3 0 1 0 -42.6 0ZM459.0 100.9a11.2 11.2 0 1 0 22.4 0a11.2 11.2 0 1 0 -22.4 0Z"/>
<path class="ring" d="M528.7 161.5a15.3 15.3 0 1 0 30.6 0a15.3 15.3 0 1 0 -30.6 0ZM536.0 161.5a8 8 0 1 0 16.0 0a8 8 0 1 0 -16.0 0Z"/>
<path class="ring" d="M140.7 600.5a44.3 44.3 0 1 0 88.6 0a44.3 44.3 0 1 0 -88.6 0ZM162.3 600.5a22.7 22.7 0 1 0 45.4 0a22.7 22.7 0 1 0 -45.4 0Z"/>
<!-- frames -->
<path d="M29.5 29.5H903.5V655.3H327.3V525.3H291.6L282.7 542.7H29.5Z" fill="none" stroke="#5a5a5a" stroke-width="1.3"/>
<path d="M29.5 549.3H285.9L294.6 531.8H321.9V655.3H29.5Z" fill="none" stroke="#5a5a5a" stroke-width="1.3"/>
<!-- texts -->
<text class="ser" x="35.4" y="41.8" font-size="10.4" textLength="169" lengthAdjust="spacingAndGlyphs">Atlas Nacional de España. IGN-CNIG</text>
<g font-size="15.8" font-weight="bold" fill="#000" stroke="#000" stroke-width="0.35">
<text x="601.4" y="60.4" textLength="64" lengthAdjust="spacingAndGlyphs" fill="#000">EMPLEO</text>
<text x="672.4" y="60.4" textLength="96" lengthAdjust="spacingAndGlyphs" fill="#000">COMERCIAL</text>
<text x="775" y="60.4" textLength="92.5" lengthAdjust="spacingAndGlyphs" fill="#000">MINORISTA</text>
</g>
<text x="603.7" y="629.8" font-size="11" textLength="263.5" lengthAdjust="spacingAndGlyphs">Fuente de información: "Encuesta Anual de Comercio" INE</text>
<!-- size legend -->
<rect x="54.3" y="192" width="243" height="212" fill="#fff" stroke="#444" stroke-width="1"/>
<text x="96" y="216" font-size="13" textLength="159" lengthAdjust="spacingAndGlyphs">PERSONAL OCUPADO 2007</text>
<g fill="none" stroke="#222" stroke-width="0.7">
<circle cx="147.3" cy="311" r="81"/>
<circle cx="147.3" cy="334.3" r="57.7"/>
<circle cx="147.3" cy="351.2" r="40.8"/>
<circle cx="147.3" cy="363.2" r="28.8"/>
<circle cx="147.3" cy="376.8" r="15.2"/>
</g>
<g stroke="#222" stroke-width="0.8" stroke-dasharray="2.2 1.2">
<path d="M150 230.2H244.5M150 276.8H244.5M150 310.6H244.5M150 334.8H250.5M150 361.8H250.5"/>
</g>
<g font-size="11" text-anchor="end">
<text x="285.3" y="235.3">392.022</text>
<text x="285.3" y="281.3">200.000</text>
<text x="285.3" y="315">100.000</text>
<text x="285.3" y="339.3">50.000</text>
<text x="285.3" y="366.3">14.000</text>
</g>
<!-- colour legend -->
<rect x="720.3" y="416.7" width="147.7" height="178.3" fill="#fff" stroke="#444" stroke-width="1"/>
<text x="736.3" y="439.3" font-size="11" textLength="115" lengthAdjust="spacingAndGlyphs">OCUPADOS/1.000 HAB.</text>
<g stroke="#333" stroke-width="0.8">
<rect x="732" y="453.5" width="42" height="23.7" fill="#CC4C02"/>
<rect x="732" y="488.8" width="42" height="23.7" fill="#FE9929"/>
<rect x="732" y="524.2" width="42" height="23.7" fill="#FED98E"/>
<rect x="732" y="559.5" width="42" height="23.7" fill="#FFFFD4"/>
</g>
<g font-size="11">
<text x="803.7" y="469.3">55,1 - 57,0</text>
<text x="803.7" y="504.7">50,1 - 55,0</text>
<text x="803.7" y="540">45,1 - 50,0</text>
<text x="803.7" y="575.3">40,1 - 45,0</text>
</g>
<!-- scale -->
<text x="53.7" y="512" font-size="8.5" textLength="81.8" lengthAdjust="spacingAndGlyphs">ESCALA 1:10.000.000</text>
<g font-size="8" text-anchor="middle">
<text x="55.2" y="529.5">0</text><text x="114.2" y="529.5">100</text><text x="173.5" y="529.5">200</text><text x="232.4" y="529.5">300</text><text x="251" y="529.5">km</text>
</g>
<g stroke="#555" stroke-width="0.7">
<rect x="55" y="534.1" width="59.4" height="3.3" fill="#EEE"/>
<rect x="114.4" y="534.1" width="59.1" height="3.3" fill="#AAA"/>
<rect x="173.5" y="534.1" width="59.7" height="3.3" fill="#EEE"/>
</g>

</svg>
</body></html>
